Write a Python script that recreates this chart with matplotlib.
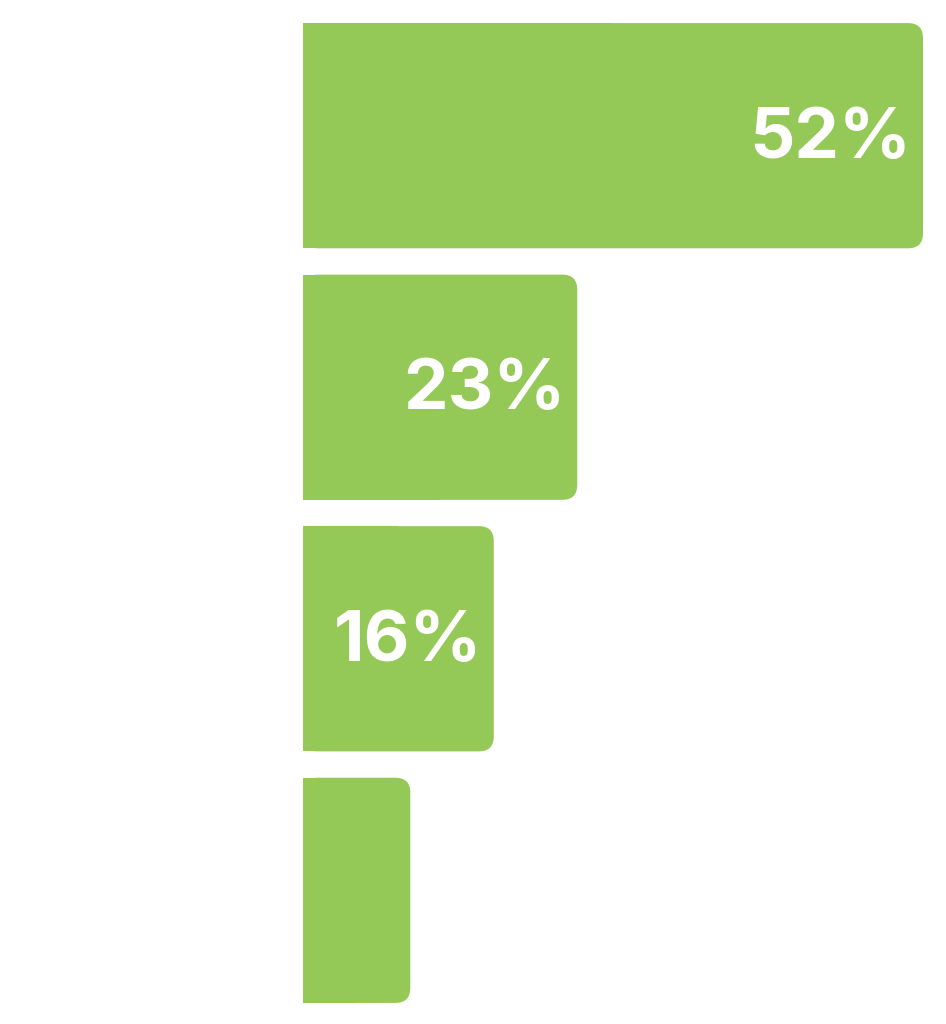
import numpy as np
import matplotlib
matplotlib.use('Agg')
import matplotlib.pyplot as plt
from matplotlib.patches import FancyBboxPatch, Rectangle

# data
categories = ['A', 'B', 'C', 'D']
values = [52, 23, 16, 9]
labels = ['52%', '23%', '16%', '']

green = '#95C957'

fig = plt.figure(figsize=(9.46, 10.24), dpi=100)
ax = fig.add_axes([303/946, 21/1024, 620/946, 980/1024])

y = np.arange(len(categories))
h = 225/251.3
bars = ax.barh(y, values, height=h, color='none')

ax.set_xlim(0, max(values))
ax.set_ylim(3.448, -0.448)
ax.axis('off')

# px per data unit, for the corner rounding
xpx = 620 / max(values)
ypx = 251.3
r_px = 15

for b, lab in zip(bars, labels):
    x0, y0 = b.get_x(), b.get_y()
    w, hh = b.get_width(), b.get_height()
    rr = r_px / xpx
    ax.add_patch(FancyBboxPatch((x0, y0), w, hh,
                                boxstyle='round,pad=0,rounding_size=%f' % rr,
                                mutation_aspect=xpx/ypx,
                                fc=green, ec='none', clip_on=False))
    ax.add_patch(Rectangle((x0, y0), w/2, hh, fc=green, ec='none', clip_on=False))
    if lab:
        ax.annotate(lab, xy=(w, y0 + hh/2), xytext=(-8.5, -2.5), textcoords='offset points',
                    ha='right', va='center', color='white', fontsize=51,
                    fontweight='bold', family=['Inter', 'DejaVu Sans'])

fig.savefig('out.png', dpi=100)
